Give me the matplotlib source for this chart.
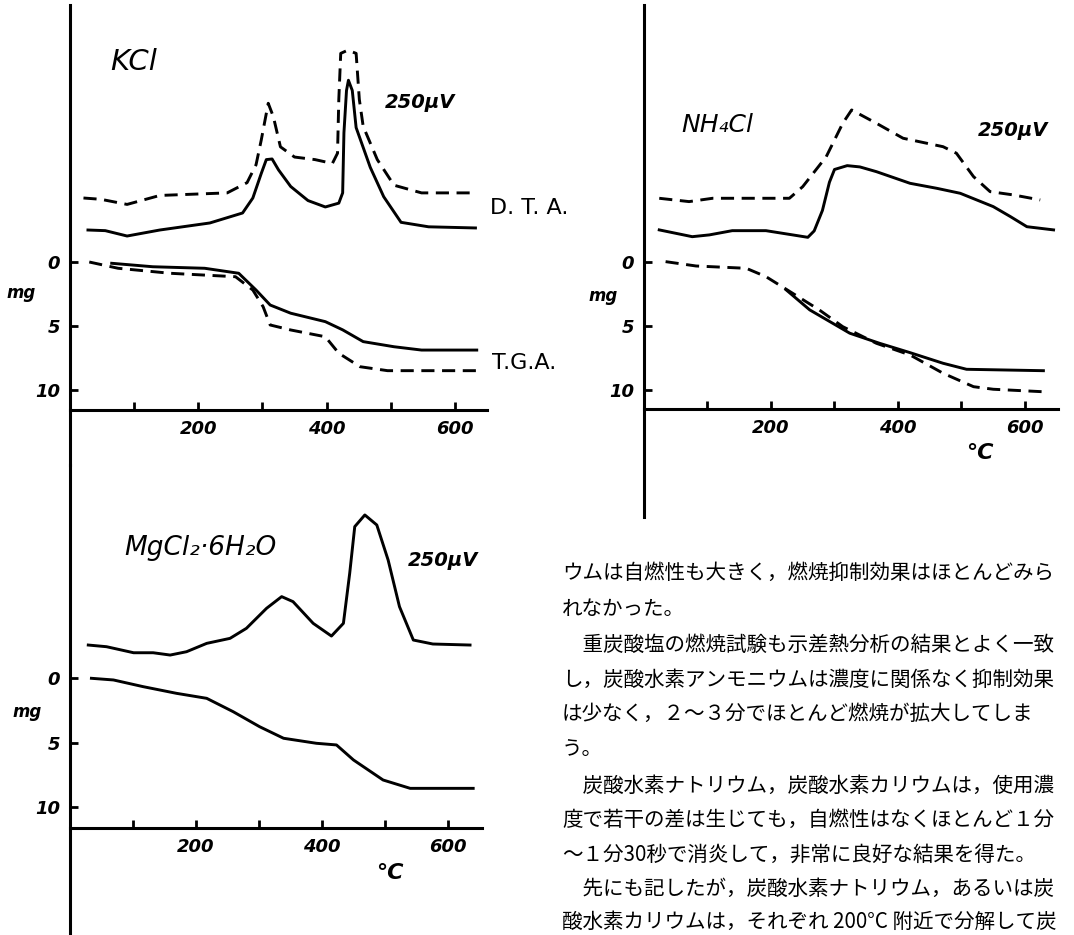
import matplotlib
matplotlib.use("Agg")
import matplotlib.pyplot as plt

W, H = 1074, 935

# ---- KCl (temperature in deg C, DTA in arbitrary units up, TGA in mg loss)
kcl_dta_T = [28, 55, 89, 140, 218, 269, 285, 298, 306, 315, 325, 344, 371, 398,
             419, 425, 427, 431, 434, 440, 446, 468, 489, 516, 559, 632]
kcl_dta = [2.5, 2.45, 2.03, 2.5, 3.05, 3.83, 5.0, 6.9, 8.0, 8.05, 7.2, 5.9, 4.8, 4.3,
           4.6, 5.4, 10.1, 13.4, 14.2, 13.4, 10.5, 7.4, 5.1, 3.1, 2.75, 2.66]
kcl_dta2_T = [21, 48, 89, 140, 245, 276, 290, 298, 309, 317, 328, 350, 382, 409,
              417, 419, 422, 433, 446, 451, 457, 479, 505, 548, 634]
kcl_dta2 = [5.0, 4.9, 4.5, 5.2, 5.4, 6.2, 7.6, 9.5, 12.4, 11.35, 9.0, 8.2, 8.0, 7.7,
            8.5, 12.7, 16.3, 16.55, 16.3, 12.7, 10.6, 8.0, 6.0, 5.4, 5.4]
kcl_tga_T = [65, 129, 210, 263, 290, 312, 344, 398, 425, 457, 505, 548, 634]
kcl_tga = [0.1, 0.37, 0.49, 0.88, 2.19, 3.36, 4.0, 4.66, 5.3, 6.22, 6.62, 6.88, 6.88]
kcl_tga2_T = [30, 75, 156, 258, 285, 301, 312, 344, 398, 419, 452, 495, 634]
kcl_tga2 = [0, 0.49, 0.88, 1.15, 2.19, 3.49, 4.92, 5.31, 5.84, 7.13, 8.18, 8.49, 8.49]

# ---- NH4Cl
nh4_dta_T = [24, 76, 103, 139, 192, 234, 258, 268, 281, 292, 300, 320, 340, 366, 419,
             461, 498, 550, 577, 603, 645]
nh4_dta = [2.48, 1.95, 2.09, 2.42, 2.42, 2.09, 1.9, 2.4, 4.0, 6.2, 7.2, 7.5, 7.4, 7.03,
           6.12, 5.73, 5.34, 4.3, 3.52, 2.73, 2.48]
nh4_dta2_T = [24, 71, 108, 229, 250, 287, 313, 327, 366, 408, 471, 492, 519, 545, 582, 624]
nh4_dta2 = [4.95, 4.69, 4.95, 4.95, 5.86, 8.2, 10.81, 11.85, 10.81, 9.64, 8.98, 8.47,
            6.64, 5.47, 5.21, 4.82]
nh4_tga_T = [224, 261, 324, 371, 419, 471, 508, 629]
nh4_tga = [2.21, 3.77, 5.59, 6.38, 7.11, 7.94, 8.41, 8.52]
nh4_tga2_T = [34, 82, 161, 192, 234, 276, 313, 366, 419, 471, 519, 550, 627]
nh4_tga2 = [0, 0.34, 0.52, 1.17, 2.47, 3.77, 5.08, 6.38, 7.29, 8.72, 9.77, 9.97, 10.16]

# ---- MgCl2.6H2O
mg_dta_T = [29, 58, 101, 132, 159, 185, 217, 254, 280, 312, 336, 354, 386, 415, 434,
            444, 452, 468, 487, 505, 523, 545, 576, 635]
mg_dta = [2.59, 2.46, 1.99, 1.99, 1.81, 2.07, 2.72, 3.11, 3.89, 5.45, 6.36, 5.97, 4.28,
          3.29, 4.28, 8.18, 11.81, 12.72, 11.94, 9.21, 5.58, 2.98, 2.67, 2.59]
mg_tga_T = [34, 69, 116, 169, 217, 259, 301, 339, 391, 423, 450, 497, 540, 640]
mg_tga = [0, 0.13, 0.65, 1.17, 1.56, 2.6, 3.77, 4.67, 5.06, 5.19, 6.36, 7.92, 8.57, 8.57]

x_ticks = [100, 200, 300, 400, 500, 600]
x_labels = ["", "200", "", "400", "", "600"]
y_ticks = [0, 5, 10]
y_labels = ["0", "5", "10"]

text_lines = [
    "ウムは自燃性も大きく，燃焼抑制効果はほとんどみら",
    "れなかった。",
    "\u3000重炭酸塩の燃焼試験も示差熱分析の結果とよく一致",
    "し，炭酸水素アンモニウムは濃度に関係なく抑制効果",
    "は少なく，２～３分でほとんど燃焼が拡大してしま",
    "う。",
    "\u3000炭酸水素ナトリウム，炭酸水素カリウムは，使用濃",
    "度で若干の差は生じても，自燃性はなくほとんど１分",
    "～１分30秒で消炎して，非常に良好な結果を得た。",
    "\u3000先にも記したが，炭酸水素ナトリウム，あるいは炭",
    "酸水素カリウムは，それぞれ 200°C 附近で分解して炭",
]
text_y = [573, 609, 645, 680, 714, 749, 786, 820, 855, 889, 922]

LW = 2.1
DASH = (4.5, 2.6)
hand = dict(style="italic", weight="bold", family="DejaVu Sans")

fig = plt.figure(figsize=(W / 100, H / 100), dpi=100)


def px(x, y):
    return x / W, 1 - y / H


def make_panel(left, right, top, bottom, xmax, ylim, spine_mg):
    ax = fig.add_axes([left / W, 1 - bottom / H, (right - left) / W, (bottom - top) / H])
    ax.set_xlim(0, xmax)
    ax.set_ylim(*ylim)
    for s in ["top", "right"]:
        ax.spines[s].set_visible(False)
    ax.spines["left"].set_linewidth(2.2)
    ax.spines["bottom"].set_linewidth(2.2)
    ax.spines["bottom"].set_position(("data", spine_mg))
    ax.set_xticks(x_ticks)
    ax.set_xticklabels(x_labels, fontsize=13, **hand)
    ax.set_yticks(y_ticks)
    ax.set_yticklabels(y_labels, fontsize=13, **hand)
    ax.tick_params(direction="in", length=6, width=2, pad=7)
    ax.patch.set_visible(False)
    dta = ax.twinx()
    dta.set_ylim(-ylim[0], -ylim[1])
    dta.set_axis_off()
    return ax, dta


# KCl
ax1, d1 = make_panel(70, 487, 5, 465, 650, (15.86, -20.08), 11.56)
d1.plot(kcl_dta_T, kcl_dta, color="black", lw=LW)
d1.plot(kcl_dta2_T, kcl_dta2, color="black", lw=LW, dashes=DASH)
ax1.plot(kcl_tga_T, kcl_tga, color="black", lw=LW)
ax1.plot(kcl_tga2_T, kcl_tga2, color="black", lw=LW, dashes=DASH)

# NH4Cl
ax2, d2 = make_panel(644, 1058, 5, 517, 652, (19.95, -20.05), 11.5)
d2.plot(nh4_dta_T, nh4_dta, color="black", lw=LW)
d2.plot(nh4_dta2_T, nh4_dta2, color="black", lw=LW, dashes=DASH)
ax2.plot(nh4_tga2_T, nh4_tga2, color="black", lw=LW, dashes=DASH)
ax2.plot(nh4_tga_T, nh4_tga, color="black", lw=LW)

# MgCl2.6H2O
ax3, d3 = make_panel(70, 482, 465, 935, 654, (19.99, -16.61), 11.68)
d3.plot(mg_dta_T, mg_dta, color="black", lw=LW)
ax3.plot(mg_tga_T, mg_tga, color="black", lw=LW)

# hand-written labels
fig.text(*px(134, 62), "KCl", fontsize=21, ha="center", va="center", style="italic")
fig.text(*px(420, 103), "250μV", fontsize=14, ha="center", va="center", **hand)
fig.text(*px(490, 208), "D. T. A.", fontsize=16, ha="left", va="center")
fig.text(*px(492, 363), "T.G.A.", fontsize=16, ha="left", va="center")
fig.text(*px(21, 293), "mg", fontsize=12, ha="center", va="center", **hand)

fig.text(*px(717, 125), "NH₄Cl", fontsize=18, ha="center", va="center", style="italic")
fig.text(*px(1013, 131), "250μV", fontsize=14, ha="center", va="center", **hand)
fig.text(*px(603, 296), "mg", fontsize=12, ha="center", va="center", **hand)
fig.text(*px(980, 453), "°C", fontsize=16, ha="center", va="center", **hand)

fig.text(*px(200, 548), "MgCl₂·6H₂O", fontsize=19, ha="center", va="center", style="italic")
fig.text(*px(443, 560), "250μV", fontsize=14, ha="center", va="center", **hand)
fig.text(*px(27, 712), "mg", fontsize=12, ha="center", va="center", **hand)
fig.text(*px(390, 873), "°C", fontsize=16, ha="center", va="center", **hand)

# body text
for line, y in zip(text_lines, text_y):
    fig.text(*px(562, y), line, fontsize=14.8, ha="left", va="center",
             family=["Noto Sans CJK JP", "DejaVu Sans"])

fig.savefig("out.png", dpi=100)
